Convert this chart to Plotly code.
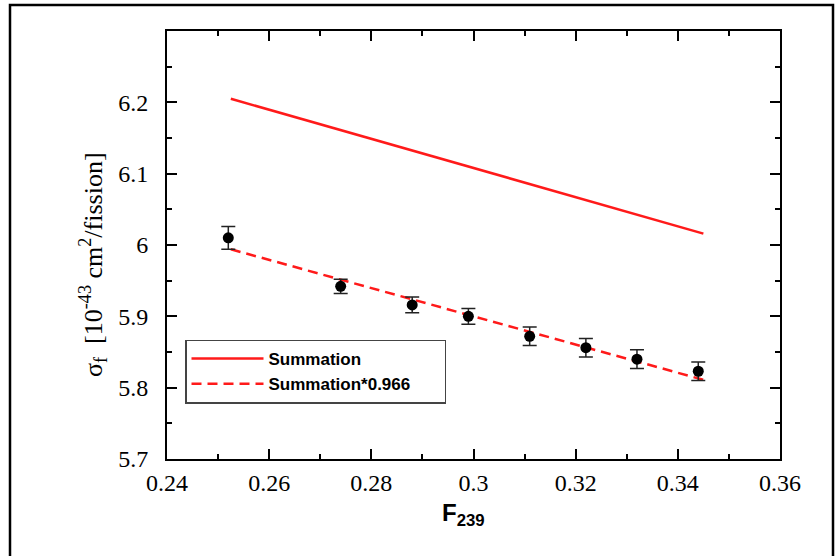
import plotly.graph_objects as go

# Data
f239 = [0.252, 0.274, 0.288, 0.299, 0.311, 0.322, 0.332, 0.344]
sigma = [6.010, 5.942, 5.916, 5.900, 5.872, 5.856, 5.840, 5.823]
sigma_err = [0.016, 0.010, 0.011, 0.011, 0.013, 0.013, 0.013, 0.013]

line_x = [0.2525, 0.345]
summation = [6.205, 6.016]
summation_scaled = [5.994, 5.811]

x_ticks = [0.24, 0.26, 0.28, 0.30, 0.32, 0.34, 0.36]
x_tick_labels = ["0.24", "0.26", "0.28", "0.3", "0.32", "0.34", "0.36"]
y_ticks = [5.7, 5.8, 5.9, 6.0, 6.1, 6.2]
y_tick_labels = ["5.7", "5.8", "5.9", "6", "6.1", "6.2"]

fig = go.Figure()
fig.add_trace(go.Scatter(x=line_x, y=summation, mode="lines", name="Summation",
                         line=dict(color="#ff1a1a", width=2.5)))
fig.add_trace(go.Scatter(x=line_x, y=summation_scaled, mode="lines",
                         name="Summation*0.966" + "\u00a0" * 6,
                         line=dict(color="#ff1a1a", width=2.5, dash="10px,6px")))
fig.add_trace(go.Scatter(x=f239, y=sigma, mode="markers", showlegend=False,
                         marker=dict(color="black", size=11),
                         error_y=dict(type="data", array=sigma_err, color="#222222",
                                      thickness=1.5, width=7)))

L, R, T, B = 167, 57, 31, 97
W, H = 837, 556
pw, ph = W - L - R, H - T - B

def px(x):
    return (x - L) / pw

def py(y):
    return (H - B - y) / ph

axis_common = dict(showline=True, linecolor="black", linewidth=2, mirror="allticks",
                   ticks="inside", ticklen=10, tickwidth=1.5, tickcolor="black",
                   showgrid=False, zeroline=False,
                   tickfont=dict(family="Liberation Serif", size=24, color="black"))

fig.update_layout(
    width=W, height=H,
    margin=dict(l=L, r=R, t=T, b=B),
    paper_bgcolor="white", plot_bgcolor="white",
    xaxis=dict(range=[0.24, 0.36], tickvals=x_ticks, ticktext=x_tick_labels,
               minor=dict(ticks="inside", ticklen=5, tickwidth=1.5, tickcolor="black", dtick=0.01),
               ticklabelstandoff=1,
               **axis_common),
    yaxis=dict(range=[5.7, 6.3], tickvals=y_ticks, ticktext=y_tick_labels,
               minor=dict(ticks="inside", ticklen=5, tickwidth=1.5, tickcolor="black", dtick=0.05),
               ticklabelstandoff=12,
               **axis_common),
    legend=dict(x=px(185), y=py(371.5), xanchor="left", yanchor="middle",
                bgcolor="white", bordercolor="#444444", borderwidth=1.5,
                font=dict(family="Liberation Sans", size=17, color="black", weight="bold"),
                tracegroupgap=0, itemwidth=72),
    annotations=[
        dict(text="<b>F<sub>239</sub></b>", xref="paper", yref="paper",
             x=px(463), y=py(514), xanchor="center", yanchor="middle", showarrow=False,
             font=dict(family="Liberation Sans", size=24, color="black")),
        dict(text="σ<sub>f</sub>  [10<sup>-43</sup> cm<sup>2</sup>/fission]",
             xref="paper", yref="paper", textangle=-90,
             x=px(93), y=py(265), xanchor="center", yanchor="middle", showarrow=False,
             font=dict(family="Liberation Serif", size=26, color="black")),
    ],
    shapes=[dict(type="rect", xref="paper", yref="paper",
                 x0=px(10), x1=px(833), y0=py(565), y1=py(5),
                 line=dict(color="black", width=2.5), layer="below")],
)

fig.write_html("out.html")
